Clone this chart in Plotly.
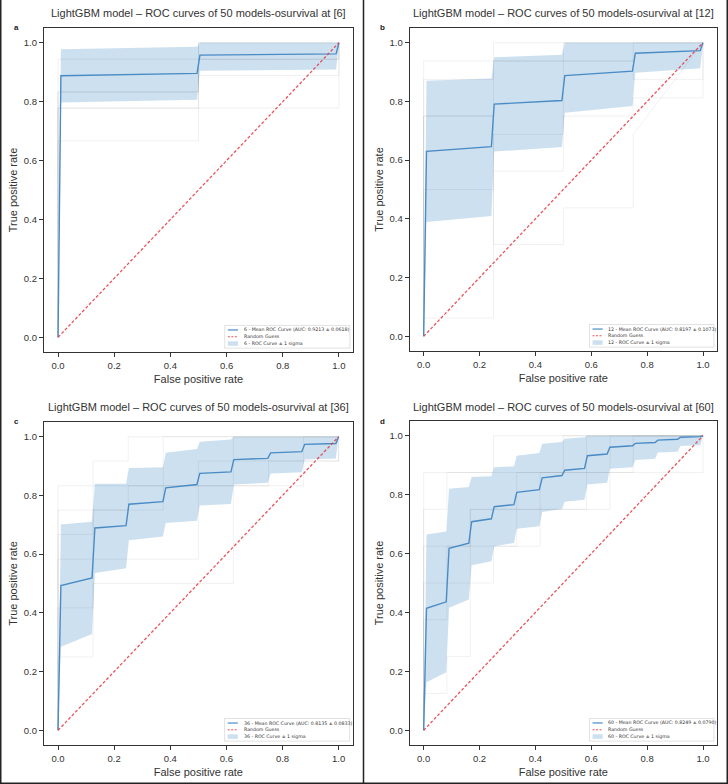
import plotly.graph_objects as go

# ---------------- data ----------------
horizons = ["6", "12", "36", "60"]
panel_letters = ["a", "b", "c", "d"]
auc_mean = ["0.9213", "0.8197", "0.8135", "0.8249"]
auc_std = ["0.0618", "0.1073", "0.0833", "0.0790"]

a_fpr = [0.0, 0.0101, 0.4949, 0.5051, 0.9899, 1.0]
a_mean = [0.0, 0.888, 0.896, 0.958, 0.962, 1.0]
a_upper = [0.0, 0.978, 0.986, 1.0, 1.0, 1.0]
a_lower = [0.0, 0.797, 0.806, 0.905, 0.909, 1.0]

b_fpr = [0.0, 0.0101, 0.2424, 0.2525, 0.4949, 0.5051, 0.7475, 0.7576, 0.9899, 1.0]
b_mean = [0.0, 0.630, 0.646, 0.791, 0.803, 0.888, 0.903, 0.964, 0.973, 1.0]
b_upper = [0.0, 0.870, 0.878, 0.950, 0.959, 1.0, 1.0, 1.0, 1.0, 1.0]
b_lower = [0.0, 0.389, 0.410, 0.629, 0.645, 0.761, 0.784, 0.898, 0.913, 1.0]

c_fpr = [0.0, 0.0101, 0.1212, 0.1313, 0.2424, 0.2525, 0.3737, 0.3838, 0.4949,
         0.5051, 0.6162, 0.6263, 0.7475, 0.7576, 0.8687, 0.8788, 0.9899, 1.0]
c_mean = [0.0, 0.493, 0.519, 0.689, 0.697, 0.770, 0.779, 0.826, 0.837,
          0.875, 0.880, 0.922, 0.926, 0.945, 0.949, 0.974, 0.977, 1.0]
c_upper = [0.0, 0.701, 0.710, 0.840, 0.840, 0.893, 0.896, 0.945, 0.958,
           0.983, 0.990, 1.0, 1.0, 1.0, 1.0, 1.0, 1.0, 1.0]
c_lower = [0.0, 0.285, 0.328, 0.536, 0.552, 0.647, 0.660, 0.706, 0.714,
           0.766, 0.771, 0.837, 0.843, 0.875, 0.879, 0.922, 0.926, 1.0]

d_fpr = [0.0, 0.0101, 0.0808, 0.0909, 0.1616, 0.1717, 0.2424, 0.2525, 0.3232,
         0.3333, 0.4141, 0.4242, 0.4949, 0.5051, 0.5758, 0.5859, 0.6566, 0.6667,
         0.7475, 0.7576, 0.8283, 0.8384, 0.9091, 0.9192, 0.9899, 1.0]
d_mean = [0.0, 0.414, 0.436, 0.618, 0.635, 0.708, 0.718, 0.759, 0.766,
          0.808, 0.817, 0.857, 0.865, 0.883, 0.889, 0.932, 0.938, 0.961,
          0.966, 0.974, 0.977, 0.985, 0.988, 0.995, 0.997, 1.0]
d_upper = [0.0, 0.665, 0.675, 0.820, 0.826, 0.860, 0.862, 0.893, 0.896,
           0.932, 0.941, 0.973, 0.979, 0.990, 0.995, 1.0, 1.0, 1.0,
           1.0, 1.0, 1.0, 1.0, 1.0, 1.0, 1.0, 1.0]
d_lower = [0.0, 0.163, 0.197, 0.416, 0.444, 0.560, 0.574, 0.625, 0.636,
           0.684, 0.693, 0.741, 0.751, 0.776, 0.783, 0.834, 0.840, 0.888,
           0.893, 0.918, 0.922, 0.943, 0.946, 0.965, 0.968, 1.0]

# faint individual-model ROC curves (a few per panel), as (fpr, tpr)
a_models = [
    ([0, 0, 0.5, 0.5, 1, 1], [0, 0.833, 0.833, 0.944, 0.944, 1]),
    ([0, 0, 0.5, 0.5, 1], [0, 0.944, 0.944, 1, 1]),
    ([0, 0, 0.5, 0.5, 1, 1], [0, 0.778, 0.778, 0.889, 0.889, 1]),
    ([0, 0, 0.5, 0.5, 1], [0, 0.667, 0.667, 1, 1]),
    ([0, 0, 0.5, 0.5, 1, 1], [0, 0.833, 0.833, 0.944, 0.944, 1]),
    ([0, 0, 1, 1], [0, 0.778, 0.778, 1]),
]
b_models = [
    ([0, 0, 0.25, 0.25, 1], [0, 0.9375, 0.9375, 1, 1]),
    ([0, 0, 0.25, 0.25, 0.5, 0.5, 1], [0, 0.75, 0.75, 0.9375, 0.9375, 1, 1]),
    ([0, 0, 0.25, 0.25, 0.5, 0.5, 0.75, 0.75, 1], [0, 0.5, 0.5, 0.5625, 0.5625, 0.9375, 0.9375, 1, 1]),
    ([0, 0, 0.25, 0.25, 0.75, 0.75, 1, 1], [0, 0.875, 0.875, 0.9375, 0.9375, 0.875, 0.875, 1]),
    ([0, 0, 0.25, 0.25, 0.5, 0.5, 0.75, 0.75, 1, 1], [0, 0.0625, 0.0625, 0.6875, 0.6875, 0.75, 0.75, 0.8125, 0.8125, 1]),
    ([0, 0, 0.25, 0.25, 0.5, 0.5, 0.75, 0.75, 1], [0, 0.75, 0.75, 0.3125, 0.3125, 0.4375, 0.4375, 0.6875, 1]),
]
c_models = [
    ([0, 0, 0.125, 0.125, 0.25, 0.25, 1], [0, 0.667, 0.667, 0.917, 0.917, 1, 1]),
    ([0, 0, 0.125, 0.125, 0.375, 0.375, 1], [0, 0.417, 0.417, 0.75, 0.75, 1, 1]),
    ([0, 0, 0.5, 0.5, 1, 1], [0, 0.583, 0.583, 0.917, 0.917, 1]),
    ([0, 0, 0.75, 0.75, 1, 1], [0, 0.833, 0.833, 0.917, 0.917, 1]),
    ([0, 0, 0.125, 0.125, 0.625, 0.625, 1], [0, 0.25, 0.25, 0.5, 0.5, 1, 1]),
    ([0, 0, 0.25, 0.25, 0.875, 0.875, 1], [0, 0.75, 0.75, 0.833, 0.833, 1, 1]),
]
d_models = [
    ([0, 0, 0.083, 0.083, 0.25, 0.25, 1], [0, 0.75, 0.75, 0.875, 0.875, 1, 1]),
    ([0, 0, 0.167, 0.167, 0.667, 0.667, 1], [0, 0.625, 0.625, 0.75, 0.75, 1, 1]),
    ([0, 0, 0.25, 0.25, 0.417, 0.417, 1, 1], [0, 0.5, 0.5, 0.625, 0.625, 0.875, 0.875, 1]),
    ([0, 0, 0.083, 0.083, 0.167, 0.167, 0.583, 0.583, 1], [0, 0.125, 0.125, 0.25, 0.25, 0.75, 0.75, 1, 1]),
    ([0, 0, 0.5, 0.5, 1], [0, 0.875, 0.875, 1, 1]),
    ([0, 0, 0.083, 0.083, 0.333, 0.333, 0.75, 0.75, 1], [0, 0.375, 0.375, 0.625, 0.625, 0.875, 0.875, 1, 1]),
]

guess_x = [0.0, 1.0]
guess_y = [0.0, 1.0]
tick_vals = [0.0, 0.2, 0.4, 0.6, 0.8, 1.0]

panels = [
    (a_fpr, a_mean, a_upper, a_lower, a_models),
    (b_fpr, b_mean, b_upper, b_lower, b_models),
    (c_fpr, c_mean, c_upper, c_lower, c_models),
    (d_fpr, d_mean, d_upper, d_lower, d_models),
]

# ---------------- layout geometry ----------------
W, H = 728, 784
# axes boxes in page pixels: (left, right, top, bottom)
boxes = [(44, 353, 28, 352), (409.7, 717, 28, 351), (44, 352.7, 422, 745), (409.7, 717, 421, 745)]
title_y_px = [13, 13, 407, 407]

MEAN_COLOR = "rgb(74,139,196)"
FILL_COLOR = "rgba(100,160,210,0.33)"
GUESS_COLOR = "rgba(232,52,62,0.85)"
TEXT = "#333333"
FONT = "Liberation Sans, Arial, sans-serif"

fig = go.Figure()
annotations = []
shapes = []

for i, (fpr, mean, upper, lower, models) in enumerate(panels):
    n = i + 1
    xa = "x" if n == 1 else f"x{n}"
    ya = "y" if n == 1 else f"y{n}"
    h = horizons[i]
    # sigma band
    fig.add_trace(go.Scatter(x=fpr, y=lower, xaxis=xa, yaxis=ya, mode="lines",
                             line=dict(width=0, color=FILL_COLOR), showlegend=False,
                             hoverinfo="skip"))
    fig.add_trace(go.Scatter(x=fpr, y=upper, xaxis=xa, yaxis=ya, mode="lines",
                             line=dict(width=0, color=FILL_COLOR), fill="tonexty",
                             fillcolor=FILL_COLOR, showlegend=False,
                             name=f"{h} - ROC Curve ± 1 sigma"))
    # individual model curves
    for mx, my in models:
        fig.add_trace(go.Scatter(x=mx, y=my, xaxis=xa, yaxis=ya, mode="lines",
                                 line=dict(width=1, color="rgba(60,60,60,0.07)"),
                                 showlegend=False, hoverinfo="skip"))
    # mean curve
    fig.add_trace(go.Scatter(x=fpr, y=mean, xaxis=xa, yaxis=ya, mode="lines",
                             line=dict(width=1.4, color=MEAN_COLOR), showlegend=False,
                             name=f"{h} - Mean ROC Curve (AUC: {auc_mean[i]} ± {auc_std[i]})"))
    # random guess
    fig.add_trace(go.Scatter(x=guess_x, y=guess_y, xaxis=xa, yaxis=ya, mode="lines",
                             line=dict(width=1.3, color=GUESS_COLOR, dash="3px,2px"),
                             showlegend=False, name="Random Guess"))

    l, r, t, b = boxes[i]
    xdom = [l / W, r / W]
    ydom = [1 - b / H, 1 - t / H]
    axis_common = dict(range=[-0.05, 1.05], tickvals=tick_vals, ticktext=[f"{v:.1f}" for v in tick_vals],
                       showgrid=False, zeroline=False, showline=True, mirror=True,
                       linecolor="#333333", linewidth=1.2, ticks="outside", ticklen=4,
                       tickcolor="#333333", tickwidth=1, tickfont=dict(size=9.5, color=TEXT, family=FONT))
    xkey = "xaxis" if n == 1 else f"xaxis{n}"
    ykey = "yaxis" if n == 1 else f"yaxis{n}"
    fig.update_layout(**{
        xkey: dict(domain=xdom, anchor=ya, title=dict(text="False positive rate", standoff=5,
                                                      font=dict(size=11, color=TEXT, family=FONT)),
                   **axis_common),
        ykey: dict(domain=ydom, anchor=xa, title=dict(text="True positive rate", standoff=3,
                                                      font=dict(size=11, color=TEXT, family=FONT)),
                   **axis_common),
    })

    # title
    annotations.append(dict(text=f"LightGBM model – ROC curves of 50 models-osurvival at [{h}]",
                            x=(l + r) / 2 / W, y=1 - title_y_px[i] / H, xref="paper", yref="paper",
                            xanchor="center", yanchor="middle", showarrow=False,
                            font=dict(size=11, color=TEXT, family=FONT)))
    # panel letter
    annotations.append(dict(text=f"<b>{panel_letters[i]}</b>", x=(l - 32) / W, y=1 - t / H,
                            xref="paper", yref="paper", xanchor="left", yanchor="middle",
                            showarrow=False, font=dict(size=8, color="#222", family=FONT)))

    # manual legend (bottom right inside axes)
    xd = f"{xa} domain"
    yd = f"{ya} domain"
    shapes.append(dict(type="rect", xref=xd, yref=yd, x0=0.585, x1=0.99, y0=0.012, y1=0.082,
                       line=dict(color="rgba(0,0,0,0.15)", width=0.8), fillcolor="rgba(255,255,255,0.8)"))
    rows = [0.068, 0.047, 0.026]
    shapes.append(dict(type="line", xref=xd, yref=yd, x0=0.595, x1=0.628, y0=rows[0], y1=rows[0],
                       line=dict(color=MEAN_COLOR, width=1.2)))
    shapes.append(dict(type="line", xref=xd, yref=yd, x0=0.595, x1=0.628, y0=rows[1], y1=rows[1],
                       line=dict(color=GUESS_COLOR, width=1.1, dash="2px,1.5px")))
    shapes.append(dict(type="rect", xref=xd, yref=yd, x0=0.595, x1=0.628, y0=rows[2] - 0.007, y1=rows[2] + 0.007,
                       line=dict(width=0), fillcolor=FILL_COLOR))
    labels = [f"{h} - Mean ROC Curve (AUC: {auc_mean[i]} ± {auc_std[i]})", "Random Guess",
              f"{h} - ROC Curve ± 1 sigma"]
    for ry, lab in zip(rows, labels):
        annotations.append(dict(text=lab, xref=xd, yref=yd, x=0.64, y=ry, xanchor="left", yanchor="middle",
                                showarrow=False, font=dict(size=4.7, color=TEXT, family="DejaVu Sans")))

# page frame lines
for xp in [0.75, 363.5, 727.25]:
    shapes.append(dict(type="line", xref="paper", yref="paper", x0=xp / W, x1=xp / W, y0=0, y1=1,
                       line=dict(color="#222222", width=1.5)))
shapes.append(dict(type="line", xref="paper", yref="paper", x0=0, x1=1, y0=0.75 / H, y1=0.75 / H,
                   line=dict(color="#222222", width=1.5)))

fig.update_layout(width=W, height=H, margin=dict(l=0, r=0, t=0, b=0),
                  paper_bgcolor="white", plot_bgcolor="white", showlegend=False,
                  annotations=annotations, shapes=shapes,
                  font=dict(family=FONT, color=TEXT))

fig.write_html("out.html", config={"displayModeBar": False},
               post_script="document.body.style.margin='0';document.body.style.overflow='hidden';")
